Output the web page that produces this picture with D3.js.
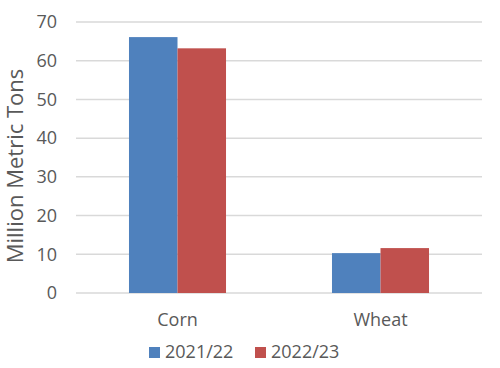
<!DOCTYPE html>
<html lang="en">
<head>
    <meta charset="UTF-8">
    <title>Corn and wheat</title>
    <script src="https://d3js.org/d3.v7.min.js"></script>
    <style>
        body { margin: 0; background: #fff; }
        text { font-family: "Open Sans", sans-serif; fill: #595959; }
    </style>
</head>
<body>
    <div id="chart"></div>

    <script>
        // data
        const categories = ['Corn', 'Wheat'];
        const seriesNames = ['2021/22', '2022/23'];
        const values2021 = [66.1, 10.3];
        const values2022 = [63.2, 11.6];
        const yTicks = [0, 10, 20, 30, 40, 50, 60, 70];
        const colors = ['#4F81BD', '#C0504D'];

        const data = categories.map((c, i) => ({
            cat: c,
            vals: [values2021[i], values2022[i]]
        }));

        const W = 500, H = 368;
        const margin = {top: 22, right: 18, bottom: 75, left: 76},
            width = W - margin.left - margin.right,
            height = H - margin.top - margin.bottom;

        const svg = d3.select('#chart')
            .append('svg')
                .attr('width', W)
                .attr('height', H);

        const g = svg.append('g')
            .attr('transform', `translate(${margin.left}, ${margin.top})`);

        const x = d3.scaleBand()
            .domain(categories)
            .range([0, width])
            .paddingInner(0.522)
            .paddingOuter(0.261);

        const xInner = d3.scaleBand()
            .domain(seriesNames)
            .range([0, x.bandwidth()]);

        const y = d3.scaleLinear()
            .domain([0, 70])
            .range([height, 0]);

        // gridlines
        g.append('g')
            .selectAll('line')
            .data(yTicks)
            .join('line')
                .attr('x1', 0)
                .attr('x2', width)
                .attr('y1', d => y(d))
                .attr('y2', d => y(d))
                .attr('stroke', '#d9d9d9')
                .attr('stroke-width', 1.5);

        // y axis labels
        const yAxis = g.append('g')
            .call(d3.axisLeft(y).tickValues(yTicks).tickSize(0).tickPadding(19));
        yAxis.select('.domain').remove();
        yAxis.selectAll('text')
            .style('font-size', '18px')
            .attr('fill', '#595959');

        // bars
        g.append('g')
            .selectAll('g')
            .data(data)
            .join('g')
                .attr('transform', d => `translate(${x(d.cat)}, 0)`)
            .selectAll('rect')
            .data(d => d.vals.map((v, i) => ({key: seriesNames[i], v: v, i: i})))
            .join('rect')
                .attr('x', d => xInner(d.key))
                .attr('y', d => y(d.v))
                .attr('width', xInner.bandwidth())
                .attr('height', d => y(0) - y(d.v))
                .attr('fill', d => colors[d.i]);

        // x axis labels
        const xAxis = g.append('g')
            .attr('transform', `translate(0, ${height})`)
            .call(d3.axisBottom(x).tickSize(0).tickPadding(20));
        xAxis.select('.domain').remove();
        xAxis.selectAll('text')
            .style('font-size', '18px')
            .attr('fill', '#595959');

        // y title
        svg.append('text')
            .attr('transform', `translate(23, ${margin.top + 144}) rotate(-90)`)
            .attr('text-anchor', 'middle')
            .style('font-size', '22px')
            .text('Million Metric Tons');

        // legend
        const legend = svg.append('g')
            .attr('transform', 'translate(149, 347)');
        const items = legend.selectAll('g')
            .data(seriesNames)
            .join('g')
                .attr('transform', (d, i) => `translate(${i * 106}, 0)`);
        items.append('rect')
            .attr('width', 11)
            .attr('height', 11)
            .attr('fill', (d, i) => colors[i]);
        items.append('text')
            .attr('x', 16)
            .attr('y', 11)
            .style('font-size', '18px')
            .text(d => d);
    </script>
</body>
</html>
